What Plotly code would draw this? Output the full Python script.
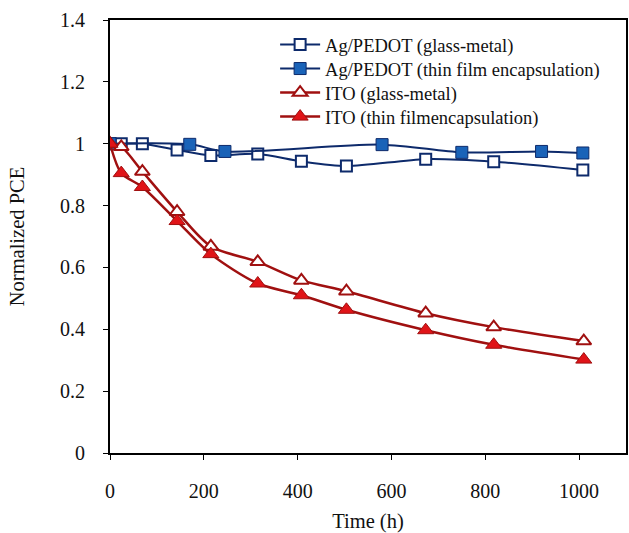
import plotly.graph_objects as go

ag_glass_x = [0, 24, 69, 143, 215, 315, 408, 504, 673, 818, 1008]
ag_glass_y = [1.0, 1.0, 1.0, 0.98, 0.962, 0.967, 0.943, 0.928, 0.95, 0.942, 0.915]

ag_film_x = [0, 170, 245, 580, 750, 920, 1008]
ag_film_y = [1.0, 0.998, 0.975, 0.997, 0.972, 0.975, 0.97]

ito_glass_x = [0, 24, 69, 143, 215, 315, 408, 504, 673, 818, 1010]
ito_glass_y = [1.0, 0.99, 0.91, 0.78, 0.668, 0.618, 0.558, 0.523, 0.452, 0.407, 0.362]

ito_film_x = [0, 24, 69, 143, 215, 315, 408, 504, 673, 818, 1010]
ito_film_y = [1.0, 0.905, 0.86, 0.75, 0.643, 0.548, 0.51, 0.463, 0.397, 0.35, 0.302]

names = ["Ag/PEDOT (glass-metal)", "Ag/PEDOT (thin film encapsulation)",
         "ITO (glass-metal)", "ITO (thin filmencapsulation)"]

navy = "#0d2a6b"
blue = "#1a63b8"
dred = "#a01010"
red = "#e01418"
font = "Liberation Serif"

fig = go.Figure()
fig.add_trace(go.Scatter(x=ag_glass_x, y=ag_glass_y, name=names[0], mode="lines+markers", legend="legend",
                         line=dict(color=navy, width=2, shape="spline", smoothing=0.8),
                         marker=dict(symbol="square", size=11, color="white", line=dict(color=navy, width=2))))
fig.add_trace(go.Scatter(x=ag_film_x, y=ag_film_y, name=names[1], mode="lines+markers", legend="legend2",
                         line=dict(color=navy, width=2, shape="spline", smoothing=0.8),
                         marker=dict(symbol="square", size=12, color=blue, line=dict(color=navy, width=1))))
fig.add_trace(go.Scatter(x=ito_glass_x, y=ito_glass_y, name=names[2], mode="lines+markers", legend="legend3",
                         line=dict(color=dred, width=2.5, shape="spline", smoothing=0.8),
                         marker=dict(symbol="triangle-up", size=13, color="white", line=dict(color=dred, width=2))))
fig.add_trace(go.Scatter(x=ito_film_x, y=ito_film_y, name=names[3], mode="lines+markers", legend="legend4",
                         line=dict(color=dred, width=2.5, shape="spline", smoothing=0.8),
                         marker=dict(symbol="triangle-up", size=14, color=red, line=dict(color=dred, width=1))))

def leg(yc):
    return dict(x=0.32, y=yc, xanchor="left", yanchor="middle", bgcolor="rgba(0,0,0,0)",
                font=dict(family=font, size=18.5), itemwidth=40)

fig.update_layout(
    width=629, height=533,
    margin=dict(l=110, r=1, t=20, b=80),
    paper_bgcolor="white", plot_bgcolor="white",
    font=dict(family=font, size=20, color="#111"),
    showlegend=True,
    legend=leg(0.9422), legend2=leg(0.8868), legend3=leg(0.8313), legend4=leg(0.7758),
    xaxis=dict(range=[0, 1100], tickvals=[0, 200, 400, 600, 800, 1000],
               showline=True, linecolor="black", linewidth=2, mirror=True,
               ticks="outside", ticklen=5, tickwidth=1, tickcolor="black",
               ticklabelstandoff=14, showgrid=False, zeroline=False,
               tickfont=dict(family=font, size=20),
               title=dict(text="Time (h)", font=dict(family=font, size=20.5), standoff=16)),
    yaxis=dict(range=[0, 1.4], tickvals=[0, 0.2, 0.4, 0.6, 0.8, 1.0, 1.2, 1.4],
               ticktext=["0", "0.2", "0.4", "0.6", "0.8", "1", "1.2", "1.4"],
               showline=True, linecolor="black", linewidth=2, mirror=True,
               ticks="outside", ticklen=5, tickwidth=1, tickcolor="black",
               ticklabelstandoff=14, showgrid=False, zeroline=False,
               tickfont=dict(family=font, size=20),
               title=dict(text="Normalized PCE", font=dict(family=font, size=20.5), standoff=30)),
)

fig.write_html("out.html")
